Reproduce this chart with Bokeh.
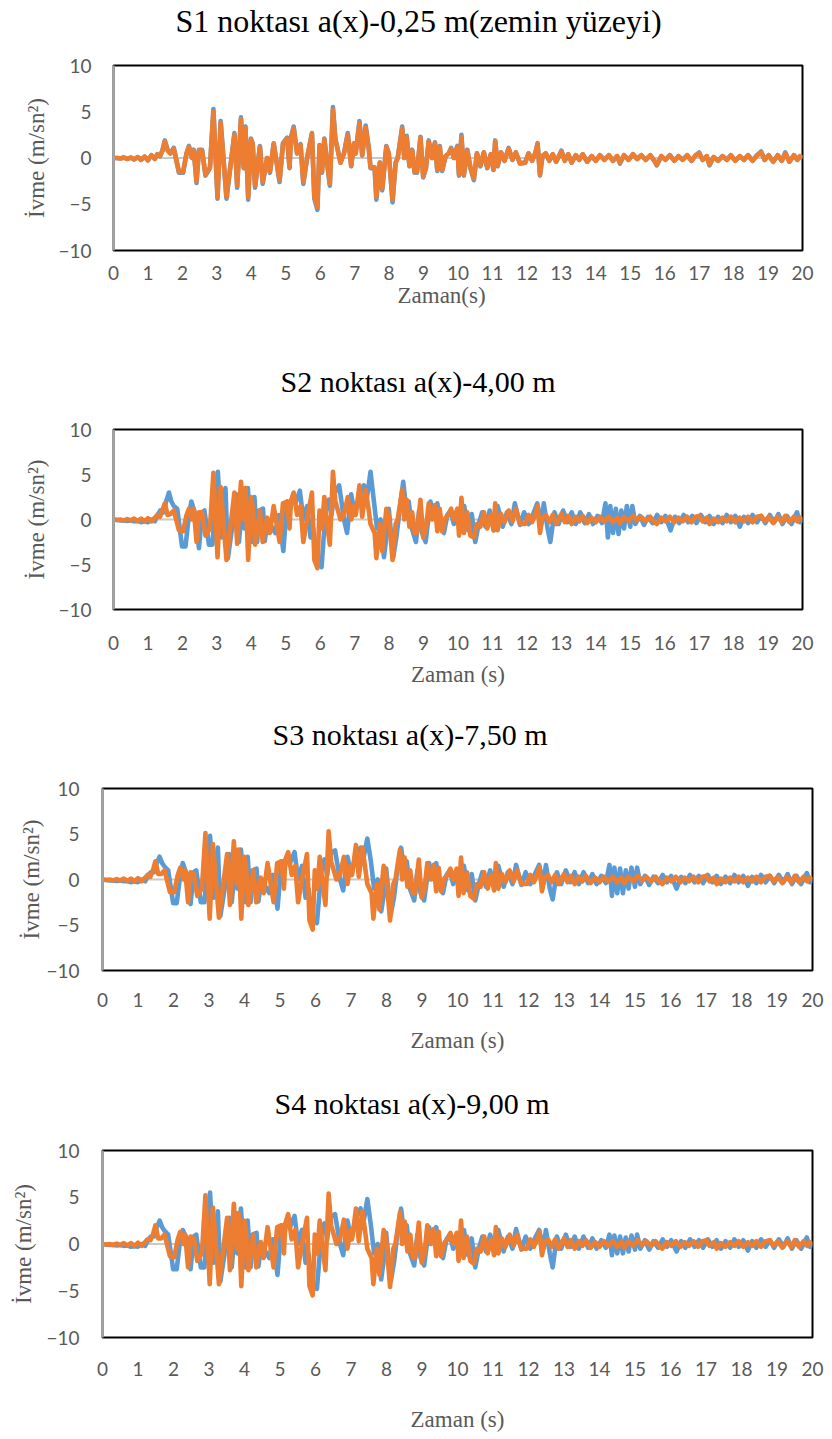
from bokeh.plotting import figure
from bokeh.models import Range1d, FixedTicker, Span, Title
from bokeh.embed import file_html
from bokeh.resources import INLINE

# ---------------- data ----------------
titles = ["S1 noktası a(x)-0,25 m(zemin yüzeyi)", "S2 noktası a(x)-4,00 m",
          "S3 noktası a(x)-7,50 m", "S4 noktası a(x)-9,00 m"]
xlabels = ["Zaman(s)", "Zaman (s)", "Zaman (s)", "Zaman (s)"]
ylabel = "İvme (m/sn²)"
x_ticks = list(range(0, 21))
y_ticks = [-10, -5, 0, 5, 10]

# time stamps of turning points (orange series, and blue series of S1)
t_a = [0, 0.1, 0.2, 0.3, 0.4, 0.5, 0.6, 0.7, 0.8, 0.9,
       1.0, 1.1, 1.2, 1.27, 1.35, 1.42, 1.49, 1.57, 1.65, 1.75,
       1.90, 2.02, 2.12, 2.19, 2.28, 2.33, 2.41, 2.48, 2.57, 2.67,
       2.80, 2.90, 3.02, 3.11, 3.28, 3.51, 3.59, 3.70, 3.78, 3.83,
       3.91, 3.99, 4.04, 4.11, 4.25, 4.33, 4.46, 4.54, 4.65, 4.82,
       4.92, 5.04, 5.11, 5.15, 5.23, 5.33, 5.43, 5.51, 5.62, 5.76,
       5.83, 5.92, 5.98, 6.05, 6.12, 6.20, 6.28, 6.37, 6.44, 6.59,
       6.69, 6.80, 6.90, 6.98, 7.03, 7.14, 7.22, 7.32, 7.41, 7.46,
       7.58, 7.63, 7.73, 7.80, 7.92, 7.99, 8.10, 8.19, 8.25, 8.38,
       8.44, 8.51, 8.59, 8.67, 8.74, 8.81, 8.91, 8.99, 9.07, 9.15,
       9.25, 9.33, 9.40, 9.47, 9.54, 9.64, 9.73, 9.80, 9.88, 9.98,
       10.03, 10.10, 10.17, 10.27, 10.36, 10.46, 10.55, 10.65, 10.75, 10.85,
       10.95, 11.03, 11.08, 11.15, 11.25, 11.35, 11.47, 11.58, 11.68, 11.80,
       11.95, 12.05, 12.15, 12.25, 12.31, 12.38, 12.45, 12.55, 12.65, 12.75,
       12.85, 13.00, 13.10, 13.20, 13.30, 13.42, 13.52, 13.62, 13.75, 13.88,
       14.00, 14.12, 14.25, 14.38, 14.50, 14.62, 14.70, 14.82, 14.95, 15.08,
       15.20, 15.32, 15.45, 15.58, 15.70, 15.77, 15.90, 16.02, 16.15, 16.28,
       16.40, 16.52, 16.65, 16.78, 16.90, 17.00, 17.10, 17.22, 17.30, 17.42,
       17.55, 17.68, 17.80, 17.92, 18.05, 18.18, 18.30, 18.42, 18.55, 18.68,
       18.80, 18.90, 19.02, 19.15, 19.28, 19.40, 19.50, 19.62, 19.75, 19.85,
       19.93, 20.00]

# time stamps of turning points (blue series of S2, S3, S4)
t_b = [0, 0.1, 0.2, 0.3, 0.4, 0.5, 0.6, 0.7, 0.8, 0.9,
       1.0, 1.1, 1.2, 1.28, 1.36, 1.45, 1.53, 1.61, 1.68, 1.75,
       1.85, 1.99, 2.09, 2.19, 2.26, 2.38, 2.48, 2.57, 2.64, 2.77,
       2.87, 3.03, 3.13, 3.25, 3.32, 3.44, 3.57, 3.64, 3.71, 3.80,
       3.90, 3.98, 4.03, 4.09, 4.17, 4.23, 4.34, 4.39, 4.48, 4.62,
       4.70, 4.80, 4.93, 5.04, 5.12, 5.19, 5.28, 5.41, 5.51, 5.62,
       5.72, 5.80, 5.90, 6.04, 6.10, 6.18, 6.25, 6.33, 6.40, 6.55,
       6.69, 6.78, 6.90, 7.01, 7.12, 7.27, 7.36, 7.46, 7.56, 7.65,
       7.75, 7.85, 7.92, 7.99, 8.12, 8.21, 8.31, 8.41, 8.50, 8.57,
       8.66, 8.78, 8.87, 8.96, 9.06, 9.20, 9.30, 9.40, 9.50, 9.59,
       9.69, 9.78, 9.88, 10.02, 10.10, 10.18, 10.30, 10.40, 10.50, 10.60,
       10.70, 10.80, 10.92, 11.05, 11.15, 11.30, 11.42, 11.55, 11.65, 11.80,
       11.92, 12.05, 12.18, 12.30, 12.42, 12.49, 12.60, 12.68, 12.80, 12.92,
       13.05, 13.18, 13.30, 13.42, 13.55, 13.68, 13.80, 13.92, 14.05, 14.18,
       14.28, 14.35, 14.42, 14.50, 14.58, 14.66, 14.74, 14.82, 14.90, 15.00,
       15.06, 15.15, 15.28, 15.40, 15.52, 15.65, 15.78, 15.90, 16.02, 16.17,
       16.30, 16.42, 16.55, 16.68, 16.80, 16.92, 17.05, 17.18, 17.30, 17.42,
       17.55, 17.68, 17.80, 17.92, 18.05, 18.18, 18.30, 18.42, 18.55, 18.68,
       18.80, 18.92, 19.05, 19.18, 19.30, 19.42, 19.55, 19.68, 19.84, 19.93,
       20.00]

s1_orange = [0, 0.0, -0.05, 0.05, -0.1, 0.05, -0.15, 0.1, -0.2, 0.15,
             -0.25, 0.3, -0.1, 0.4, 0.2, 0.8, 1.8, 0.8, 0.5, 1.0,
             -1.5, -1.5, 0.5, 1.2, 0.0, 0.8, -2.5, 0.8, 0.8, -1.8,
             -1.0, 5.0, -4.2, 3.8, -4.2, 2.5, -3.0, 4.2, -1.0, 3.2,
             -4.2, 2.0, 1.5, -3.0, 1.2, -2.6, 0.0, -1.5, 1.5, -2.4,
             1.5, 2.1, -1.0, 2.1, 3.2, 0.5, 1.4, -2.6, 0.0, 2.6,
             -4.2, -5.3, 1.3, -1.5, 2.0, -0.5, -2.8, 5.2, 2.0, -0.5,
             0.5, 2.5, -0.8, 1.5, 0.5, 3.8, 0.3, 3.3, 1.0, -1.0,
             -1.0, -4.2, -0.5, -3.3, 1.2, 0.5, -4.5, -0.5, 0.0, 3.2,
             0.0, 2.2, -0.8, 0.8, -1.5, -1.5, 2.2, -2.0, -1.0, 1.8,
             0.0, 1.6, -1.3, 1.2, -1.3, 0.2, 0.5, 1.0, 0.0, 1.2,
             -1.8, 2.3, -1.8, 0.8, -1.0, -2.2, 0.5, -0.8, 0.6, -1.0,
             0.4, -1.2, 1.8, -0.8, 0.6, -0.3, 1.0, -0.2, 0.6, -0.6,
             -0.5, 0.5, -0.3, 0.6, 1.5, -1.8, 0.2, 0.5, -0.3, 0.4,
             -0.4, 0.7, -0.3, 0.4, -0.5, 0.3, -0.2, 0.4, -0.4, 0.2,
             -0.3, 0.3, -0.2, 0.3, -0.3, 0.2, -0.5, 0.3, -0.2, 0.4,
             -0.1, 0.3, -0.2, 0.3, -0.3, -0.7, 0.2, -0.2, 0.3, -0.3,
             0.2, -0.2, 0.3, -0.3, 0.3, 0.5, -0.2, 0.2, -0.7, 0.1,
             -0.3, 0.2, -0.2, 0.3, -0.3, 0.2, -0.2, 0.3, -0.3, 0.3,
             0.6, -0.2, 0.3, -0.4, 0.3, -0.3, 0.5, -0.4, 0.3, -0.2,
             0.2, 0.0]

s1_blue = [0, 0.0, -0.05, 0.05, -0.1, 0.05, -0.15, 0.1, -0.2, 0.15,
           -0.25, 0.3, -0.1, 0.4, 0.2, 0.8, 1.9, 0.9, 0.5, 1.1,
           -1.6, -1.6, 0.5, 1.3, 0.0, 0.9, -2.7, 0.9, 0.9, -1.9,
           -1.1, 5.3, -4.4, 4.0, -4.4, 2.7, -3.2, 4.4, -1.1, 3.4,
           -4.5, 2.1, 1.6, -3.2, 1.3, -2.8, 0.0, -1.6, 1.6, -2.6,
           1.6, 2.2, -1.1, 2.2, 3.4, 0.5, 1.5, -2.8, 0.0, 2.7,
           -4.4, -5.6, 1.4, -1.6, 2.1, -0.5, -3.0, 5.5, 2.1, -0.5,
           0.5, 2.7, -0.9, 1.6, 0.5, 4.0, 0.3, 3.5, 1.1, -1.1,
           -1.1, -4.5, -0.5, -3.5, 1.3, 0.5, -4.8, -0.5, 0.0, 3.4,
           0.0, 2.4, -0.9, 0.9, -1.6, -1.6, 2.3, -2.1, -1.1, 1.9,
           0.0, 1.7, -1.4, 1.3, -1.4, 0.2, 0.5, 1.1, 0.0, 1.3,
           -1.9, 2.5, -1.9, 0.9, -1.1, -2.4, 0.5, -0.9, 0.6, -1.1,
           0.4, -1.3, 1.9, -0.9, 0.6, -0.3, 1.1, -0.2, 0.6, -0.6,
           -0.5, 0.5, -0.3, 0.6, 1.6, -1.9, 0.2, 0.5, -0.3, 0.4,
           -0.4, 0.8, -0.3, 0.4, -0.5, 0.3, -0.2, 0.4, -0.4, 0.2,
           -0.3, 0.3, -0.2, 0.3, -0.3, 0.2, -0.6, 0.3, -0.2, 0.4,
           -0.1, 0.3, -0.2, 0.3, -0.3, -0.8, 0.2, -0.2, 0.3, -0.3,
           0.2, -0.2, 0.3, -0.3, 0.3, 0.6, -0.2, 0.2, -0.8, 0.1,
           -0.3, 0.2, -0.2, 0.3, -0.3, 0.2, -0.2, 0.3, -0.3, 0.3,
           0.7, -0.2, 0.3, -0.4, 0.3, -0.3, 0.6, -0.4, 0.3, -0.2,
           0.2, 0.0]

s2_orange = [0, -0.05, 0.0, -0.1, 0.05, -0.1, 0.1, -0.15, 0.1, -0.2,
             0.15, -0.2, 0.2, 0.5, 0.3, 1.0, 1.8, 0.5, 0.6, 1.0,
             -1.2, -1.3, 0.5, 1.2, 0.0, 1.2, -2.5, 0.8, 0.8, -1.8,
             -1.0, 5.2, -4.2, 3.6, -4.5, 3.0, -2.7, 4.2, 0.0, 3.5,
             -4.5, 2.5, 1.5, -2.8, 1.0, -2.5, 0.2, -1.5, 1.5, -2.5,
             1.8, 2.0, -1.0, 2.0, 3.0, 0.5, 1.5, -2.5, 0.0, 3.0,
             -4.5, -5.4, 1.0, -1.0, 2.5, -0.5, -2.8, 5.3, 2.0, 0.0,
             0.5, 2.5, 0.0, 1.5, 0.5, 3.8, 0.3, 3.3, 1.0, -0.5,
             -1.5, -4.3, -0.5, -3.5, 1.2, 0.5, -4.5, -0.5, 0.0, 3.3,
             0.0, 2.2, -0.8, 0.8, -1.5, -1.5, 2.2, -2.0, -1.0, 1.8,
             0.0, 1.6, -1.3, 1.2, -1.3, 0.2, 0.5, 1.2, 0.0, 1.2,
             -1.8, 2.4, -1.5, 0.8, -1.8, -2.0, -0.5, -0.8, 0.8, -1.0,
             0.5, -1.2, 1.8, -1.2, 0.6, -0.3, 1.0, -0.2, 1.2, -0.5,
             -0.5, 0.5, -0.3, 0.6, 1.5, -1.5, 0.2, 0.5, -0.3, 0.5,
             -0.5, 0.6, -0.3, 0.4, -0.5, 0.3, -0.2, 0.4, -0.4, 0.2,
             -0.3, 0.3, -0.2, 0.3, -0.3, 0.2, -0.4, 0.3, -0.2, 0.4,
             -0.1, 0.3, -0.2, 0.3, -0.3, -0.5, 0.2, -0.2, 0.3, -0.3,
             0.2, -0.2, 0.3, -0.3, 0.3, 0.4, -0.2, 0.2, -0.5, 0.1,
             -0.3, 0.2, -0.2, 0.3, -0.3, 0.2, -0.2, 0.3, -0.3, 0.3,
             0.4, -0.2, 0.3, -0.4, 0.3, -0.3, 0.4, -0.3, 0.3, -0.2,
             0.2, 0.0]

s2_blue = [0, -0.05, -0.1, -0.1, -0.15, -0.1, -0.2, -0.15, -0.3, -0.2,
           -0.3, 0.0, -0.2, 0.5, 1.0, 0.8, 2.0, 3.0, 2.0, 1.5,
           1.2, -3.0, -3.0, 0.5, 2.0, 0.5, -3.2, 0.8, 1.0, -2.8,
           -2.8, 5.3, -2.0, 3.5, -4.3, -1.0, 2.8, -2.5, 0.5, -1.0,
           3.5, -1.0, -2.5, 2.5, -2.5, 1.0, 1.2, -2.4, 0.0, -1.0,
           -1.5, 0.5, -3.5, 2.0, 1.0, 2.5, 1.8, 3.2, 0.0, 1.5,
           -2.0, -1.0, -4.5, -5.3, -2.0, 1.5, 2.2, 0.5, 2.8, 3.8,
           0.0, -1.5, 2.8, 0.5, 2.5, 3.8, 2.5, 5.3, 2.0, -1.0,
           0.0, -4.2, -2.0, 1.2, -4.2, -2.0, 1.2, 4.2, 1.0, 2.0,
           -1.0, -2.5, 1.0, -1.5, -2.5, 2.0, 0.5, 1.8, -1.0, -1.5,
           0.5, 1.0, -0.5, 0.8, -1.0, 1.5, -1.2, 0.6, -2.5, -0.5,
           0.8, -0.8, 1.0, -1.2, 1.5, -0.8, 0.8, -0.5, 1.8, -0.6,
           0.8, -0.5, 0.6, 1.8, -0.5, 1.8, -1.0, -2.5, 0.8, -0.5,
           1.0, -0.3, 0.8, -0.5, 0.8, -0.4, 0.6, -0.5, 0.4, -0.4,
           1.8, -2.0, 1.5, -1.5, 1.2, -1.6, 1.0, -1.0, 1.5, -0.8,
           1.5, -0.5, 0.4, -0.6, 0.3, -0.4, 0.5, -0.3, 0.4, -1.2,
           0.3, -0.4, 0.5, -0.3, 0.4, -0.4, 0.5, -0.3, 0.4, -0.5,
           0.3, -0.4, 0.5, -0.3, 0.4, -0.8, 0.3, -0.4, 0.5, -0.3,
           0.4, -0.4, 0.5, -0.3, 0.6, -0.5, 0.4, -0.5, 0.8, -0.3,
           0.0]

s3_orange = [0, -0.05, 0.0, -0.1, 0.05, -0.1, 0.1, -0.15, 0.1, -0.2,
             0.15, -0.2, 0.2, 0.5, 0.3, 1.0, 2.0, 0.6, 0.6, 1.0,
             -1.4, -1.4, 0.5, 1.3, 0.0, 1.0, -2.5, 0.8, 0.6, -1.8,
             -1.0, 5.1, -4.3, 3.9, -4.2, 2.8, -2.8, 4.2, -0.5, 3.3,
             -4.3, 2.5, 1.5, -2.8, 1.0, -2.5, 0.2, -1.5, 1.8, -2.5,
             1.8, 2.0, -1.0, 2.2, 3.0, 0.5, 1.5, -2.5, 0.0, 2.8,
             -4.5, -5.5, 1.0, -1.0, 2.5, -0.5, -2.8, 5.3, 2.0, 0.0,
             0.5, 2.5, -0.5, 1.5, 0.5, 3.8, 0.3, 3.5, 1.0, -0.5,
             -1.5, -4.3, -0.5, -3.3, 1.5, 0.5, -4.5, -0.5, 0.0, 3.3,
             0.0, 2.4, -0.8, 1.0, -1.5, -1.5, 2.2, -2.0, -1.0, 1.8,
             0.0, 1.6, -1.3, 1.3, -1.3, 0.2, 0.5, 1.2, 0.0, 1.2,
             -1.8, 2.4, -1.5, 0.8, -1.8, -2.1, -0.5, -0.8, 0.8, -1.0,
             0.5, -1.2, 1.8, -1.0, 0.6, -0.3, 1.0, -0.2, 1.0, -0.5,
             -0.5, 0.5, -0.3, 0.6, 1.4, -1.3, 0.2, 0.5, -0.3, 0.5,
             -0.5, 0.6, -0.3, 0.4, -0.5, 0.3, -0.2, 0.4, -0.4, 0.2,
             -0.3, 0.3, -0.2, 0.3, -0.3, 0.2, -0.4, 0.3, -0.2, 0.4,
             -0.1, 0.3, -0.2, 0.3, -0.3, -0.5, 0.2, -0.2, 0.3, -0.3,
             0.2, -0.2, 0.3, -0.3, 0.3, 0.4, -0.2, 0.2, -0.5, 0.1,
             -0.3, 0.2, -0.2, 0.3, -0.3, 0.2, -0.2, 0.3, -0.3, 0.3,
             0.4, -0.2, 0.3, -0.4, 0.3, -0.3, 0.4, -0.3, 0.3, -0.2,
             0.2, 0.0]

s3_blue = [0, -0.05, -0.1, -0.1, -0.15, -0.1, -0.2, -0.15, -0.3, -0.2,
           -0.3, 0.0, -0.2, 0.4, 0.8, 0.8, 1.8, 2.5, 1.8, 1.4,
           1.0, -2.6, -2.6, 0.5, 1.8, 0.5, -2.7, 0.8, 1.0, -2.5,
           -2.5, 4.8, -2.0, 3.5, -4.0, -1.0, 2.8, -2.5, 0.5, -1.0,
           3.3, -1.0, -2.5, 2.5, -2.5, 1.0, 1.2, -2.4, 0.0, -1.0,
           -1.5, 0.5, -3.2, 2.0, 1.0, 2.5, 1.8, 3.0, 0.0, 1.5,
           -2.0, -1.0, -4.0, -4.8, -2.0, 1.5, 2.2, 0.5, 2.8, 3.2,
           0.0, -1.2, 2.5, 0.5, 2.5, 3.5, 2.5, 4.5, 2.0, -1.0,
           0.0, -3.5, -1.8, 1.2, -3.8, -2.0, 1.2, 3.5, 1.0, 2.0,
           -1.0, -2.3, 1.0, -1.5, -2.3, 1.8, 0.5, 1.8, -1.0, -1.5,
           0.5, 1.0, -0.5, 0.8, -1.0, 1.5, -1.2, 0.6, -2.3, -0.5,
           0.8, -0.8, 1.0, -1.0, 1.5, -0.8, 0.8, -0.5, 1.6, -0.6,
           0.8, -0.5, 0.6, 1.6, -0.5, 1.6, -1.0, -2.2, 0.8, -0.5,
           1.0, -0.3, 0.8, -0.5, 0.8, -0.4, 0.6, -0.5, 0.4, -0.4,
           1.6, -1.8, 1.3, -1.5, 1.2, -1.5, 1.0, -1.0, 1.3, -0.8,
           1.3, -0.5, 0.4, -0.6, 0.3, -0.4, 0.5, -0.3, 0.4, -1.0,
           0.3, -0.4, 0.5, -0.3, 0.4, -0.4, 0.5, -0.3, 0.4, -0.5,
           0.3, -0.4, 0.5, -0.3, 0.4, -0.7, 0.3, -0.4, 0.5, -0.3,
           0.4, -0.4, 0.5, -0.3, 0.6, -0.5, 0.4, -0.5, 0.7, -0.3,
           0.0]

s4_orange = [0, -0.05, 0.0, -0.1, 0.05, -0.1, 0.1, -0.15, 0.1, -0.2,
             0.15, -0.2, 0.2, 0.5, 0.4, 1.0, 2.0, 0.6, 0.6, 1.0,
             -1.3, -1.4, 0.5, 1.3, 0.0, 1.0, -2.5, 0.8, 0.6, -1.8,
             -1.0, 5.2, -4.3, 3.9, -4.3, 2.8, -2.8, 4.3, -0.5, 3.3,
             -4.5, 2.5, 1.5, -2.8, 1.0, -2.5, 0.2, -1.5, 1.8, -2.5,
             1.8, 2.0, -1.0, 2.2, 3.2, 0.5, 1.5, -2.5, 0.0, 2.8,
             -4.5, -5.5, 1.0, -1.0, 2.5, -0.5, -2.8, 5.4, 2.0, 0.0,
             0.5, 2.6, -0.5, 1.5, 0.5, 3.8, 0.3, 3.5, 1.0, -0.5,
             -1.5, -4.3, -0.5, -3.3, 1.5, 0.5, -4.6, -0.5, 0.0, 3.4,
             0.0, 2.4, -0.8, 1.0, -1.5, -1.5, 2.3, -2.0, -1.0, 2.0,
             0.0, 1.6, -1.3, 1.3, -1.3, 0.2, 0.5, 1.2, 0.0, 1.2,
             -1.8, 2.5, -1.5, 0.8, -1.8, -2.1, -0.5, -0.8, 0.8, -1.0,
             0.5, -1.2, 1.8, -1.0, 0.6, -0.3, 1.0, -0.2, 1.0, -0.5,
             -0.5, 0.5, -0.3, 0.6, 1.3, -1.2, 0.2, 0.5, -0.3, 0.5,
             -0.5, 0.6, -0.3, 0.4, -0.5, 0.3, -0.2, 0.4, -0.4, 0.2,
             -0.3, 0.3, -0.2, 0.3, -0.3, 0.2, -0.4, 0.3, -0.2, 0.4,
             -0.1, 0.3, -0.2, 0.3, -0.3, -0.5, 0.2, -0.2, 0.3, -0.3,
             0.2, -0.2, 0.3, -0.3, 0.3, 0.4, -0.2, 0.2, -0.5, 0.1,
             -0.3, 0.2, -0.2, 0.3, -0.3, 0.2, -0.2, 0.3, -0.3, 0.3,
             0.4, -0.2, 0.3, -0.4, 0.3, -0.3, 0.4, -0.3, 0.3, -0.2,
             0.2, 0.0]

s4_blue = [0, -0.05, -0.1, -0.1, -0.15, -0.1, -0.2, -0.15, -0.3, -0.25,
           -0.3, 0.0, -0.2, 0.4, 0.8, 0.8, 1.8, 2.5, 1.8, 1.4,
           1.0, -2.7, -2.7, 0.5, 1.5, 0.5, -2.7, 0.8, 1.0, -2.5,
           -2.5, 5.5, -2.0, 3.5, -4.0, -1.0, 2.8, -2.5, 0.5, -1.0,
           3.8, -1.0, -2.5, 2.5, -2.5, 1.0, 1.2, -2.4, 0.0, -1.0,
           -1.5, 0.5, -3.3, 2.0, 1.0, 2.5, 1.8, 3.0, 0.0, 1.5,
           -2.0, -1.0, -4.2, -4.8, -2.0, 1.5, 2.2, 0.5, 2.8, 3.2,
           0.0, -1.2, 2.5, 0.5, 2.5, 3.8, 2.5, 4.8, 2.0, -1.0,
           0.0, -3.8, -1.8, 1.2, -4.0, -2.0, 1.2, 3.8, 1.0, 2.0,
           -1.0, -2.3, 1.0, -1.5, -2.3, 1.8, 0.5, 1.8, -1.0, -1.5,
           0.5, 1.0, -0.5, 0.8, -1.0, 1.5, -1.2, 0.6, -2.5, -0.5,
           0.8, -0.8, 1.0, -1.0, 1.5, -0.8, 0.8, -0.5, 1.6, -0.6,
           0.8, -0.5, 0.6, 1.5, -0.5, 1.5, -1.0, -2.5, 0.8, -0.5,
           1.0, -0.3, 0.8, -0.5, 0.8, -0.4, 0.6, -0.5, 0.4, -0.4,
           1.0, -1.2, 0.9, -1.0, 0.8, -1.0, 0.7, -0.8, 0.9, -0.6,
           1.0, -0.5, 0.4, -0.6, 0.3, -0.4, 0.5, -0.3, 0.4, -0.8,
           0.3, -0.4, 0.5, -0.3, 0.4, -0.4, 0.5, -0.3, 0.4, -0.5,
           0.3, -0.4, 0.5, -0.3, 0.4, -0.7, 0.3, -0.4, 0.5, -0.3,
           0.4, -0.4, 0.5, -0.3, 0.6, -0.5, 0.4, -0.5, 0.7, -0.3,
           0.0]

# ---------------- styling / layout ----------------
BLUE = "#5b9bd5"
ORANGE = "#ed7d31"
GRAY_TXT = "#595959"
SERIF = "Liberation Serif"
SERIF_ALT = "Times New Roman"
TICKF = "Lato"

geo = [
    dict(H=340, L=113, R=22, T=65, B=90, tfs="32px", toff=62, sp=24,
         xls=9, xsp=None, xalign="left", xoff=284, xfont="serif", yfont="serif",
         yls=16, ysd=14),
    dict(H=360, L=113, R=22, T=89, B=91, tfs="30px", toff=167, sp=29,
         xls=20, xsp=6, xalign="center", xoff=0, xfont=SERIF, yfont=SERIF_ALT,
         yls=16, ysd=14),
    dict(H=375, L=102, R=12, T=88, B=105, tfs="30px", toff=170, sp=35,
         xls=16, xsp=15, xalign="center", xoff=0, xfont=SERIF, yfont=SERIF_ALT,
         yls=17, ysd=0),
    dict(H=364, L=98, R=12, T=75, B=102, tfs="30px", toff=172, sp=28,
         xls=18, xsp=25, xalign="center", xoff=0, xfont=SERIF, yfont=SERIF_ALT,
         yls=17, ysd=16),
]

series = [(t_a, s1_orange, t_a, s1_blue),
          (t_a, s2_orange, t_b, s2_blue),
          (t_a, s3_orange, t_b, s3_blue),
          (t_a, s4_orange, t_b, s4_blue)]


def spacer(sd):
    return Title(text=" ", text_font_size="1px", standoff=sd)


figs = []
for i in range(4):
    g = geo[i]
    to, vo, tb, vb = series[i]
    p = figure(width=824, height=g["H"], x_range=Range1d(0, 20), y_range=Range1d(-10, 10),
               output_backend="svg", toolbar_location=None,
               min_border_left=g["L"], min_border_right=g["R"],
               min_border_top=g["T"], min_border_bottom=g["B"])
    p.title.text = ""
    p.add_layout(spacer(g["sp"]), "above")
    p.add_layout(Title(text=titles[i], text_font=SERIF, text_font_size=g["tfs"],
                       text_font_style="normal", text_color="black",
                       align="left", offset=g["toff"], standoff=0,
                       vertical_align="bottom"), "above")

    p.xgrid.visible = False
    p.ygrid.visible = False
    p.outline_line_color = "black"
    p.outline_line_width = 2
    p.outline_line_alpha = 1.0
    p.background_fill_color = "white"
    p.border_fill_color = "white"

    p.add_layout(Span(location=0, dimension="width", line_color="#c8c8c8",
                      line_width=2, level="underlay"))

    p.line(tb, vb, line_color=BLUE, line_width=4.6, line_join="round")
    p.line(to, vo, line_color=ORANGE, line_width=4.6, line_join="round")

    xa = p.xaxis[0]
    xa.ticker = FixedTicker(ticks=x_ticks)
    xa.axis_line_color = None
    xa.major_tick_line_color = None
    xa.minor_tick_line_color = None
    xa.major_label_text_font = TICKF
    xa.major_label_text_font_size = "19px"
    xa.major_label_text_color = GRAY_TXT
    xa.major_label_standoff = g["xls"]

    ya = p.yaxis[0]
    ya.ticker = FixedTicker(ticks=y_ticks)
    ya.axis_line_color = "#a6a6a6"
    ya.axis_line_width = 2.5
    ya.major_tick_line_color = None
    ya.minor_tick_line_color = None
    ya.major_label_text_font = TICKF
    ya.major_label_text_font_size = "19px"
    ya.major_label_text_color = GRAY_TXT
    ya.major_label_standoff = g["yls"]

    if g["xsp"] is not None:
        p.add_layout(spacer(g["xsp"]), "below")
    p.add_layout(Title(text=xlabels[i], text_font=g["xfont"], text_font_size="23px",
                       text_font_style="normal", text_color=GRAY_TXT,
                       align=g["xalign"], offset=g["xoff"], standoff=0,
                       vertical_align="top"), "below")
    p.add_layout(Title(text=ylabel, text_font=g["yfont"], text_font_size="23px",
                       text_font_style="normal", text_color=GRAY_TXT,
                       align="center", standoff=g["ysd"],
                       vertical_align="bottom"), "left")
    figs.append(p)

open("out.html", "w").write(file_html(figs, INLINE))
